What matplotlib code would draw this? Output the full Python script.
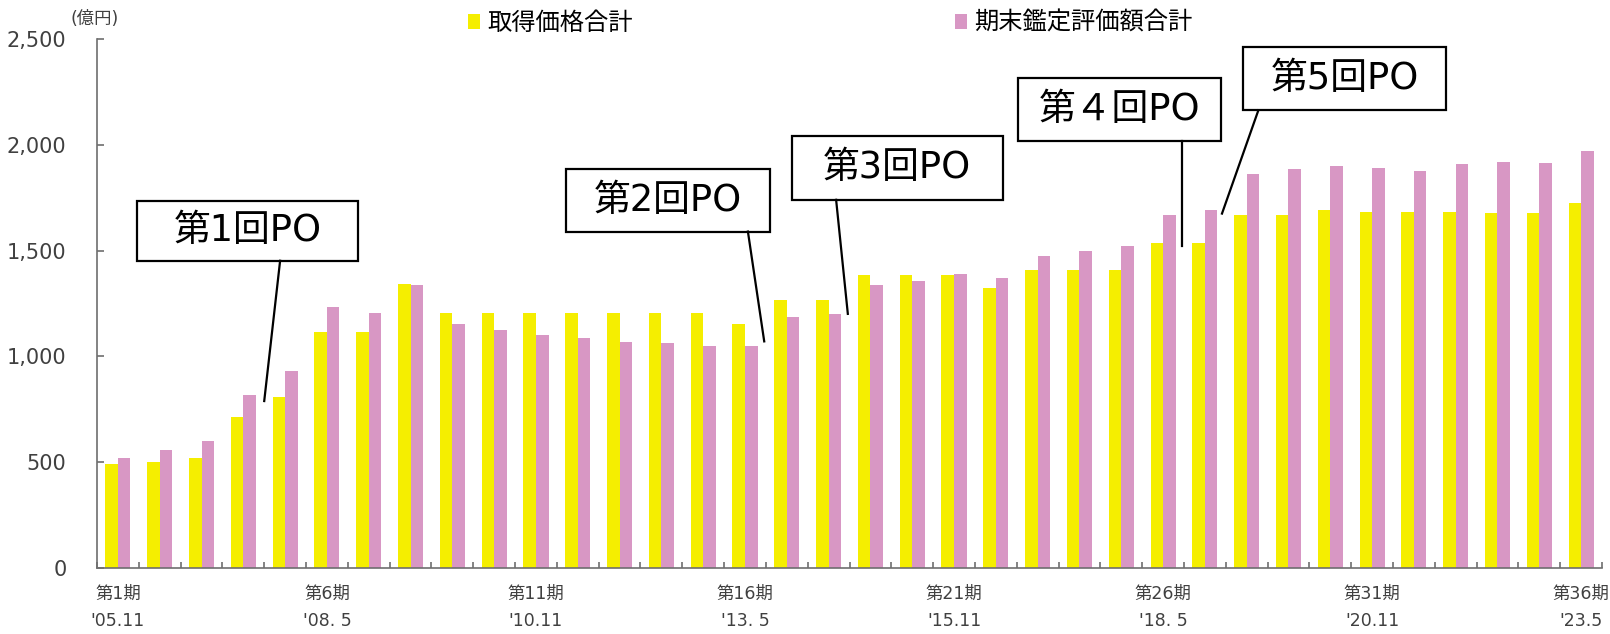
import matplotlib

matplotlib.use("Agg")

import matplotlib.pyplot as plt
import numpy as np
from matplotlib.patches import Rectangle

plt.rcParams["font.family"] = ["DejaVu Sans", "Noto Sans CJK JP"]

# ---------------------------------------------------------------------------
# Data (億円), periods 1..36
# ---------------------------------------------------------------------------
acquisition = [490, 502, 521, 714, 810, 1113, 1113, 1341,
               1207, 1207, 1207, 1207, 1207, 1207, 1207,
               1154, 1268, 1268, 1385, 1385, 1385, 1324,
               1408, 1408, 1408, 1535, 1535, 1667, 1667,
               1691, 1684, 1684, 1684, 1678, 1678, 1727]
appraisal = [521, 557, 600, 816, 931, 1232, 1203, 1336,
             1154, 1124, 1100, 1086, 1070, 1063, 1050,
             1050, 1184, 1201, 1336, 1358, 1389, 1371,
             1474, 1498, 1521, 1667, 1691, 1861, 1884,
             1901, 1890, 1877, 1908, 1920, 1914, 1969]

series_names = ["取得価格合計", "期末鑑定評価額合計"]
label_periods = [0, 5, 10, 15, 20, 25, 30, 35]
label_texts = ["第1期\n'05.11", "第6期\n'08. 5", "第11期\n'10.11", "第16期\n'13. 5",
               "第21期\n'15.11", "第26期\n'18. 5", "第31期\n'20.11", "第36期\n'23.5"]

# public offerings: label, box (x0, x1, y0, y1) in data units, leader line
po_labels = ["第1回PO", "第2回PO", "第3回PO", "第４回PO", "第5回PO"]
po_boxes = [(0.46, 5.74, 1452, 1735), (10.72, 15.60, 1590, 1884),
            (16.13, 21.16, 1740, 2041), (21.53, 26.39, 2017, 2314),
            (26.92, 31.77, 2163, 2460)]
po_lines = [((3.88, 1452), (3.50, 789)), ((15.07, 1590), (15.46, 1071)),
            ((17.18, 1740), (17.46, 1201)), ((25.46, 2017), (25.46, 1523)),
            ((27.28, 2163), (26.41, 1675))]

YELLOW = "#F5EE00"
PINK = "#D897C4"
GREY = "#404040"
SPINE = "#6E6E6E"

fig = plt.figure(figsize=(16.1, 6.34), dpi=100)
ax = fig.add_axes([97 / 1610, 1 - 568 / 634, 1505 / 1610, 529 / 634])

x = np.arange(len(acquisition))
w = 0.3
b1 = ax.bar(x - w / 2, acquisition, width=w, color=YELLOW, label=series_names[0])
b2 = ax.bar(x + w / 2, appraisal, width=w, color=PINK, label=series_names[1])

ax.set_xlim(-0.5, len(acquisition) - 0.5)
ax.set_ylim(0, 2500)

for s in ("top", "right"):
    ax.spines[s].set_visible(False)
for s in ("left", "bottom"):
    ax.spines[s].set_color(SPINE)
    ax.spines[s].set_linewidth(1.2)

ax.set_yticks(np.arange(0, 2501, 500))
ax.set_yticklabels([f"{v:,}" for v in range(0, 2501, 500)])
ax.tick_params(axis="y", direction="in", length=5, width=1.2, color=SPINE,
               labelsize=15, labelcolor=GREY, pad=22)

ax.set_xticks(np.arange(-0.5, len(acquisition)), minor=True)
ax.set_xticks(label_periods)
ax.set_xticklabels(label_texts, linespacing=1.65)
ax.tick_params(axis="x", which="major", length=0, labelsize=12.5,
               labelcolor=GREY, pad=12)
ax.tick_params(axis="x", which="minor", direction="in", length=4, width=1.2,
               color=SPINE)

fig.text(71 / 1610, 1 - 19 / 634, "(億円)", fontsize=12.5, color=GREY,
         ha="left", va="center")

ax.legend(handles=[b1, b2], loc="upper left",
          bbox_to_anchor=(468 / 1610, 1 - 11 / 634),
          bbox_transform=fig.transFigure, ncol=2, frameon=False,
          borderpad=0, borderaxespad=0, handlelength=0.5, handleheight=0.6,
          handletextpad=0.3, columnspacing=13.25, prop={"size": 17.5})

# PO call-outs
for label, (x0, x1, y0, y1), (p0, p1) in zip(po_labels, po_boxes, po_lines):
    ax.add_patch(Rectangle((x0, y0), x1 - x0, y1 - y0, facecolor="white",
                           edgecolor="black", linewidth=1.6, zorder=5,
                           clip_on=False))
    ax.text((x0 + x1) / 2, (y0 + y1) / 2, label, fontsize=26.5, color="black",
            ha="center", va="center", zorder=6)
    ax.plot([p0[0], p1[0]], [p0[1], p1[1]], color="black", linewidth=1.6,
            zorder=5, clip_on=False)

fig.savefig("out.png", dpi=100)
